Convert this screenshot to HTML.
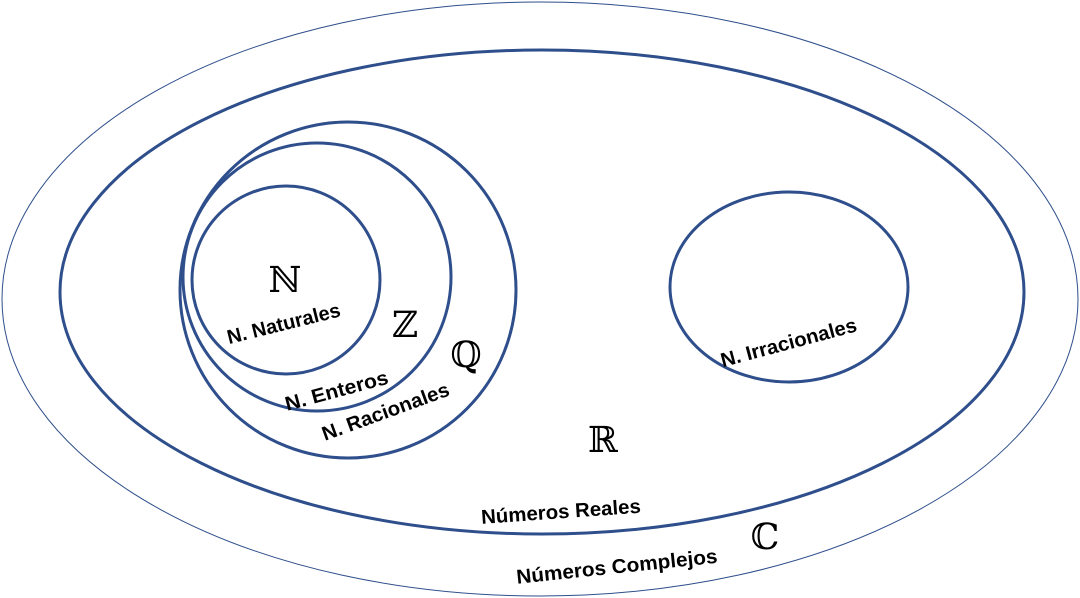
<!DOCTYPE html>
<html><head><meta charset="utf-8"><style>
html,body{margin:0;padding:0;background:#fff;}
svg{display:block;}
.l{font-family:"Liberation Sans","DejaVu Sans",sans-serif;font-weight:bold;font-size:20px;fill:#000;text-anchor:middle;dominant-baseline:middle;}
.s{font-family:"DejaVu Serif","DejaVu Sans",serif;font-size:36px;fill:#000;text-anchor:middle;dominant-baseline:middle;}
</style></head><body>
<svg width="1080" height="598" viewBox="0 0 1080 598">
<g fill="none" stroke="#2e4e8c">
<ellipse cx="540" cy="299" rx="538" ry="297" stroke-width="1"/>
<ellipse cx="542" cy="292" rx="482" ry="242" stroke-width="3"/>
<circle cx="348" cy="290" r="168" stroke-width="3"/>
<circle cx="317" cy="277" r="134" stroke-width="3"/>
<circle cx="286" cy="280" r="94" stroke-width="3"/>
<ellipse cx="789" cy="287" rx="119" ry="95" stroke-width="3"/>
</g>
<text class="s" x="285" y="283">ℕ</text>
<text class="s" x="405" y="328">ℤ</text>
<text class="s" x="466" y="358">ℚ</text>
<text class="s" x="603" y="443">ℝ</text>
<text class="s" x="765" y="540">ℂ</text>
<text class="l" transform="translate(284,325) rotate(-14)" textLength="116" lengthAdjust="spacingAndGlyphs">N. Naturales</text>
<text class="l" transform="translate(337,392) rotate(-15)" textLength="106" lengthAdjust="spacingAndGlyphs">N. Enteros</text>
<text class="l" transform="translate(386,413) rotate(-20)" textLength="134" lengthAdjust="spacingAndGlyphs">N. Racionales</text>
<text class="l" transform="translate(789,344) rotate(-15)" textLength="140" lengthAdjust="spacingAndGlyphs">N. Irracionales</text>
<text class="l" transform="translate(561,513) rotate(-4)" textLength="160" lengthAdjust="spacingAndGlyphs">Números Reales</text>
<text class="l" transform="translate(617,568) rotate(-6)" textLength="202" lengthAdjust="spacingAndGlyphs">Números Complejos</text>
</svg>
</body></html>
